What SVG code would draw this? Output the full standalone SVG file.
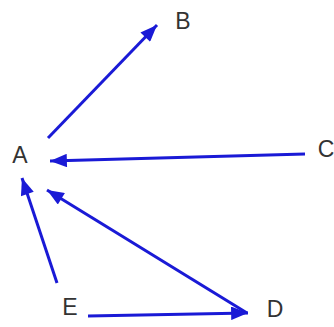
<svg xmlns="http://www.w3.org/2000/svg" width="334" height="327" viewBox="0 0 334 327">
<style>
.lbl{font-family:"Liberation Sans",Arial,sans-serif;font-size:23px;fill:#333;text-anchor:middle}
.e{stroke:#1a1ad6;stroke-width:3;fill:none;marker-end:url(#ah)}
</style>
<defs>
<marker id="ah" viewBox="0 0 10 8" refX="10" refY="4" markerWidth="6" markerHeight="4.5" markerUnits="strokeWidth" orient="auto">
<path d="M0,0 L10,4 L0,8 z" fill="#1a1ad6"/>
</marker>
</defs>
<rect width="334" height="327" fill="#fff"/>
<g id="connectors">
<line class="e" x1="48" y1="138" x2="157" y2="25"/>
<line class="e" x1="305" y1="154" x2="50" y2="161"/>
<line class="e" x1="57" y1="283" x2="22" y2="178"/>
<line class="e" x1="247" y1="313" x2="47" y2="190"/>
<line class="e" x1="88" y1="316" x2="248" y2="313"/>
</g>
<g id="A"><text class="lbl" x="20" y="163">A</text></g>
<g id="B"><text class="lbl" x="183" y="29">B</text></g>
<g id="C"><text class="lbl" x="326" y="157">C</text></g>
<g id="D"><text class="lbl" x="275" y="317">D</text></g>
<g id="E"><text class="lbl" x="70" y="315">E</text></g>
</svg>
